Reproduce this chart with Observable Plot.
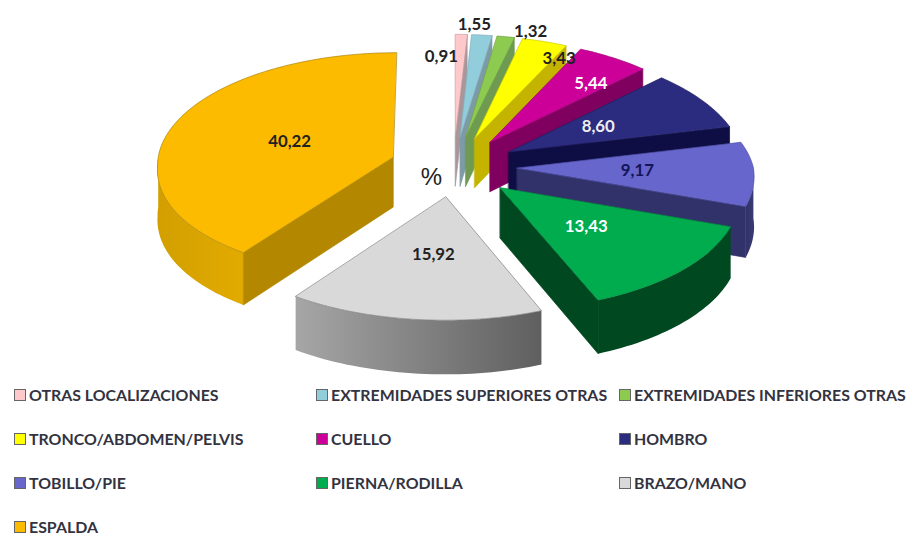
<!DOCTYPE html>
<html><head><meta charset="utf-8">
<script src="https://cdn.jsdelivr.net/npm/d3@7"></script>
<script src="https://cdn.jsdelivr.net/npm/@observablehq/plot@0.6"></script>
<style>
html,body{margin:0;padding:0;background:#fff;width:910px;height:536px;overflow:hidden}
svg{display:block}
#legend{position:relative;height:150px;font:700 15.9px Lato,sans-serif;color:#33333f}
.it{position:absolute;white-space:nowrap;line-height:18px;height:18px}
.sw{position:absolute;left:0;top:3px;width:10px;height:10px;border:1px solid #666;box-sizing:content-box}
.tx{position:absolute;left:15px;top:0}
</style></head><body>
<div id="chart"></div><div id="legend"></div>
<script>
const categories = ["OTRAS LOCALIZACIONES","EXTREMIDADES SUPERIORES OTRAS","EXTREMIDADES INFERIORES OTRAS","TRONCO/ABDOMEN/PELVIS","CUELLO","HOMBRO","TOBILLO/PIE","PIERNA/RODILLA","BRAZO/MANO","ESPALDA"];
const values = [0.91,1.55,1.32,3.43,5.44,8.60,9.17,13.43,15.92,40.22];
const valueLabels = ["0,91","1,55","1,32","3,43","5,44","8,60","9,17","13,43","15,92","40,22"];
const topColors = ["#FFC9CC","#92CDDC","#8CCB50","#FFFF00","#CC0099","#2B2B80","#6666CC","#00AC4E","#D9D9D9","#FDBB00"];
const edgeColors = ["#c9a0a3","#7fb0bd","#73a543","#cfcf00","#a0007a","#20205f","#4f4fa5","#008a3e","#808080","#a88208"];
const radialWall = ["#a8969a","#7d9aa6","#6f9a52","#c4b400","#80005f","#0e0e45","#32326a","#00481f","#8a8a8a","#b38800"];
const wallLeft = ["#a8969a","#7d9aa6","#6f9a52","#c4b400","#80005f","#0e0e45","#32326a","#00481f","#a6a6a6","#d29f00"];
const wallRight = ["#a8969a","#7d9aa6","#6f9a52","#c4b400","#80005f","#0e0e45","#3a3a72","#00481f","#5f5f5f","#e2ab00"];
const labelColors = ["#222","#222","#222","#222","#fff","#eee","#14145a","#fff","#222","#222"];
const labelNudge = [[-17,-27],[3,-60],[44,-54],[48,-30],[37,-15],[-9,1],[2,0],[-3,-1],[2,-2],[7,1]];
const legendCols = [14,316,619];

// view of the tilted, exploded pie
const W=910,H=386,cx=453,cy=166,A=236,B=112,persp=0.06,explode=0.27,depth=50,skew=7;
const project=(X,Y,z=0)=>{const w=1+persp*Y;return {x:cx+A*X/w-skew*Math.max(0,X*Y),y:cy-B*Y/w+depth*z/w};};
const total=d3.sum(values);
const rad=d=>d*Math.PI/180;
let acc=0;
const slices=values.map((v,i)=>{const a0=acc/total*360;acc+=v;const a1=acc/total*360;return {i,a0,a1,mid:(a0+a1)/2};});
const ordered=[...slices].sort((a,b)=>Math.cos(rad(b.mid))-Math.cos(rad(a.mid)));
const points=[],labels=[];let pid=0;
const addFace=(pts,fill,stroke)=>{const id=pid++;pts.forEach(p=>points.push({id,x:p.x,y:p.y,fill,stroke}));};
const arc=(a,b,step=1.5)=>{const n=Math.max(2,Math.ceil((b-a)/step));return d3.range(n+1).map(k=>a+(b-a)*k/n);};
for(const s of ordered){
  const ox=explode*Math.sin(rad(s.mid)),oy=explode*Math.cos(rad(s.mid));
  const pt=(t,z=0)=>project(ox+Math.sin(rad(t)),oy+Math.cos(rad(t)),z);
  const ap=(z=0)=>project(ox,oy,z);
  // outer curved wall: only the part turned to the viewer
  const v0=Math.max(s.a0,90),v1=Math.min(s.a1,270);
  if(v1>v0){
    const ts=arc(v0,v1);
    addFace([...ts.map(t=>pt(t)),...ts.slice().reverse().map(t=>pt(t,1))],`url(#wall${s.i})`,"none");
  }
  // radial walls turned to the viewer
  if(Math.cos(rad(s.a0-90))<-1e-6) addFace([ap(),pt(s.a0),pt(s.a0,1),ap(1)],radialWall[s.i],radialWall[s.i]);
  if(Math.cos(rad(s.a1+90))<-1e-6) addFace([ap(),pt(s.a1),pt(s.a1,1),ap(1)],radialWall[s.i],radialWall[s.i]);
  // top face
  addFace([ap(),...arc(s.a0,s.a1).map(t=>pt(t))],topColors[s.i],edgeColors[s.i]);
  const r=explode+.5,c=project(r*Math.sin(rad(s.mid)),r*Math.cos(rad(s.mid)));
  labels.push({x:c.x+labelNudge[s.i][0],y:c.y+labelNudge[s.i][1],text:valueLabels[s.i],fill:labelColors[s.i]});
}
const NS="http://www.w3.org/2000/svg";
const gradients=()=>{
  const defs=document.createElementNS(NS,"defs");
  values.forEach((_,i)=>{
    const g=document.createElementNS(NS,"linearGradient");
    g.setAttribute("id","wall"+i);
    [[0,wallLeft[i]],[1,wallRight[i]]].forEach(([o,c])=>{
      const st=document.createElementNS(NS,"stop");
      st.setAttribute("offset",o);st.setAttribute("stop-color",c);g.append(st);
    });
    defs.append(g);
  });
  return defs;
};
const chart=Plot.plot({
  width:W,height:H,margin:0,
  x:{domain:[0,W],range:[0,W],axis:null},
  y:{domain:[0,H],range:[0,H],axis:null},
  color:{type:"identity"},
  marks:[
    gradients,
    Plot.line(points,{x:"x",y:"y",z:"id",fill:"fill",stroke:"stroke",strokeWidth:0.7,curve:"linear-closed"}),
    Plot.text(labels,{x:"x",y:"y",text:"text",fill:"fill",fontSize:16.8,fontWeight:700,fontFamily:"Lato, sans-serif"}),
    Plot.text(["%"],{x:()=>431,y:()=>177,text:d=>d,fontSize:24,fill:"#222",fontFamily:"Liberation Sans, sans-serif"})
  ]
});
document.getElementById("chart").append(chart);
const lg=document.getElementById("legend");
categories.forEach((c,i)=>{
  const el=document.createElement("div");el.className="it";
  el.style.left=legendCols[i%3]+"px";el.style.top=(Math.floor(i/3)*44)+"px";
  const sw=document.createElement("span");sw.className="sw";sw.style.background=topColors[i];
  const tx=document.createElement("span");tx.className="tx";tx.textContent=c;
  el.append(sw,tx);lg.append(el);
});
</script></body></html>
